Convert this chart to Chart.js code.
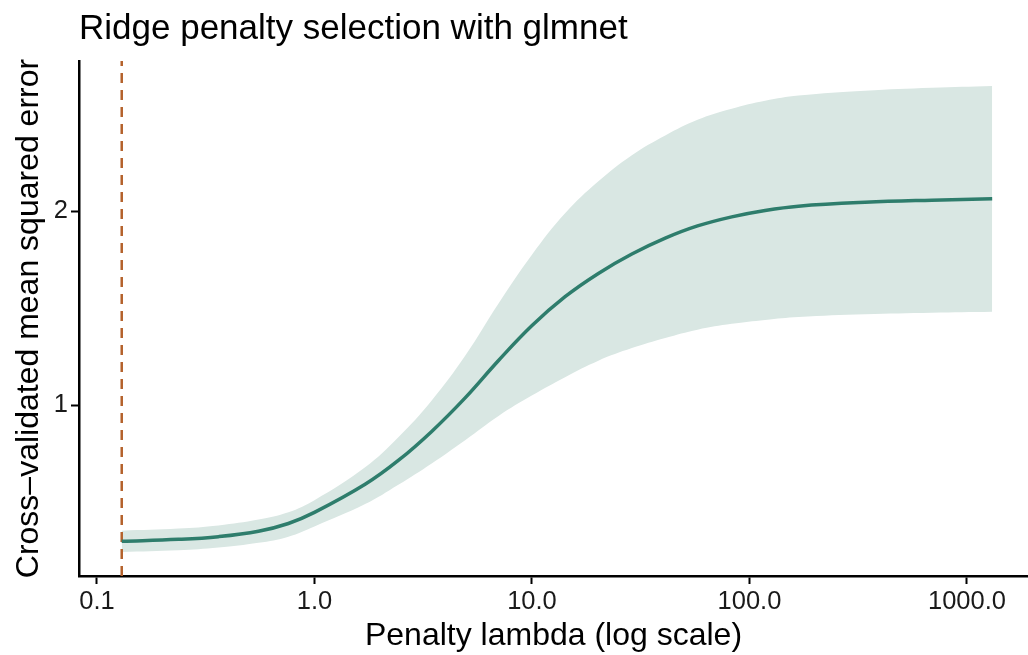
<!DOCTYPE html>
<html>
<head>
<meta charset="utf-8">
<script src="https://cdn.jsdelivr.net/npm/chart.js@4"></script>
<style>
  html, body { margin: 0; padding: 0; background: #fff; }
  #wrap { width: 1028px; height: 655px; }
</style>
</head>
<body>
<div id="wrap"><canvas id="chart-canvas"></canvas></div>
<script>
const chart = document.getElementById("chart-canvas");

// Values
let lambdaValues = [0.13, 0.237, 0.362, 0.553, 0.759, 1.0, 1.71, 2.43, 3.46, 4.93, 7.02, 9.98, 14.2, 20.2, 28.8, 41.0, 57.7, 82.9, 118, 168, 340, 689, 1306];
let cvMean  = [0.298, 0.308, 0.322, 0.35, 0.39, 0.447, 0.592, 0.715, 0.865, 1.038, 1.231, 1.41, 1.56, 1.68, 1.78, 1.862, 1.925, 1.972, 2.005, 2.027, 2.047, 2.058, 2.065];
let cvUpper = [0.353, 0.364, 0.38, 0.41, 0.448, 0.51, 0.68, 0.835, 1.025, 1.255, 1.525, 1.775, 1.99, 2.155, 2.29, 2.392, 2.473, 2.53, 2.571, 2.598, 2.623, 2.638, 2.647];
let cvLower = [0.243, 0.252, 0.266, 0.29, 0.322, 0.375, 0.49, 0.59, 0.70, 0.82, 0.945, 1.05, 1.145, 1.23, 1.295, 1.347, 1.39, 1.42, 1.44, 1.455, 1.469, 1.477, 1.482];
let lambdaMin = 0.13;
let xTicks = [0.1, 1, 10, 100, 1000];
let yTicks = [1, 2];
// ======================

const yMin = 0.119, yMax = 2.776;
const lineColor = "#2e7d6c";
const bandColor = "#d9e7e3";
const vlineColor = "#b4612b";
const fontFamily = "'Liberation Sans', Arial, sans-serif";

const toPoints = (ys) => lambdaValues.map((x, i) => ({ x: x, y: ys[i] }));

const chartData = {
  datasets: [{
    label: "Upper",
    data: toPoints(cvUpper),
    borderWidth: 0,
    pointRadius: 0,
    backgroundColor: bandColor,
    fill: "+1",
    tension: 0.4,
    order: 3
  },
  {
    label: "Lower",
    data: toPoints(cvLower),
    borderWidth: 0,
    pointRadius: 0,
    backgroundColor: bandColor,
    fill: false,
    tension: 0.4,
    order: 3
  },
  {
    label: "Mean",
    data: toPoints(cvMean),
    borderColor: lineColor,
    borderWidth: 3.5,
    pointRadius: 0,
    fill: false,
    tension: 0.4,
    order: 1
  },
  {
    label: "Lambda min",
    data: [{ x: lambdaMin, y: yMin }, { x: lambdaMin, y: yMax }],
    borderColor: vlineColor,
    borderWidth: 2.5,
    borderDash: [10, 7],
    pointRadius: 0,
    fill: false,
    order: 2
  }]
};

const options = {
  responsive: true,
  maintainAspectRatio: false,
  animation: false,
  layout: { padding: 0 },
  plugins: {
    legend: { display: false },
    tooltip: { enabled: false },
    title: {
      display: true,
      text: "Ridge penalty selection with glmnet",
      align: "start",
      fullSize: false,
      color: "#000",
      font: { family: fontFamily, size: 35, weight: "normal" },
      padding: { top: 8, bottom: 11 }
    }
  },
  scales: {
    x: {
      type: "logarithmic",
      min: 0.0827,
      max: 1908,
      bounds: "data",
      afterBuildTicks: (scale) => { scale.ticks = xTicks.map(v => ({ value: v })); },
      afterFit: (scale) => { scale.height = 79; },
      border: { display: true, color: "#000", width: 2.5 },
      grid: { display: true, drawOnChartArea: false, drawTicks: true, tickLength: 8, color: "#000", tickWidth: 2 },
      ticks: {
        color: "#1a1a1a",
        font: { family: fontFamily, size: 25.5 },
        padding: 3,
        maxRotation: 0,
        autoSkip: false,
        callback: (v) => Number(v).toFixed(1)
      },
      title: {
        display: true,
        text: "Penalty lambda (log scale)",
        color: "#000",
        font: { family: fontFamily, size: 32 },
        padding: { top: 0, bottom: 0 }
      }
    },
    y: {
      type: "linear",
      min: yMin,
      max: yMax,
      bounds: "data",
      afterBuildTicks: (scale) => { scale.ticks = yTicks.map(v => ({ value: v })); },
      afterFit: (scale) => { scale.width = 79; },
      border: { display: true, color: "#000", width: 2.5 },
      grid: { display: true, drawOnChartArea: false, drawTicks: true, tickLength: 8, color: "#000", tickWidth: 2 },
      ticks: {
        color: "#1a1a1a",
        font: { family: fontFamily, size: 25.5 },
        padding: 3,
        callback: (v) => String(v)
      },
      title: {
        display: true,
        text: "Cross\u2013validated mean squared error",
        color: "#000",
        font: { family: fontFamily, size: 32 },
        padding: { top: 10, bottom: 0 }
      }
    }
  }
};

const config = {
  type: "line",
  data: chartData,
  options: options
};

new Chart(chart, config);
</script>
</body>
</html>
